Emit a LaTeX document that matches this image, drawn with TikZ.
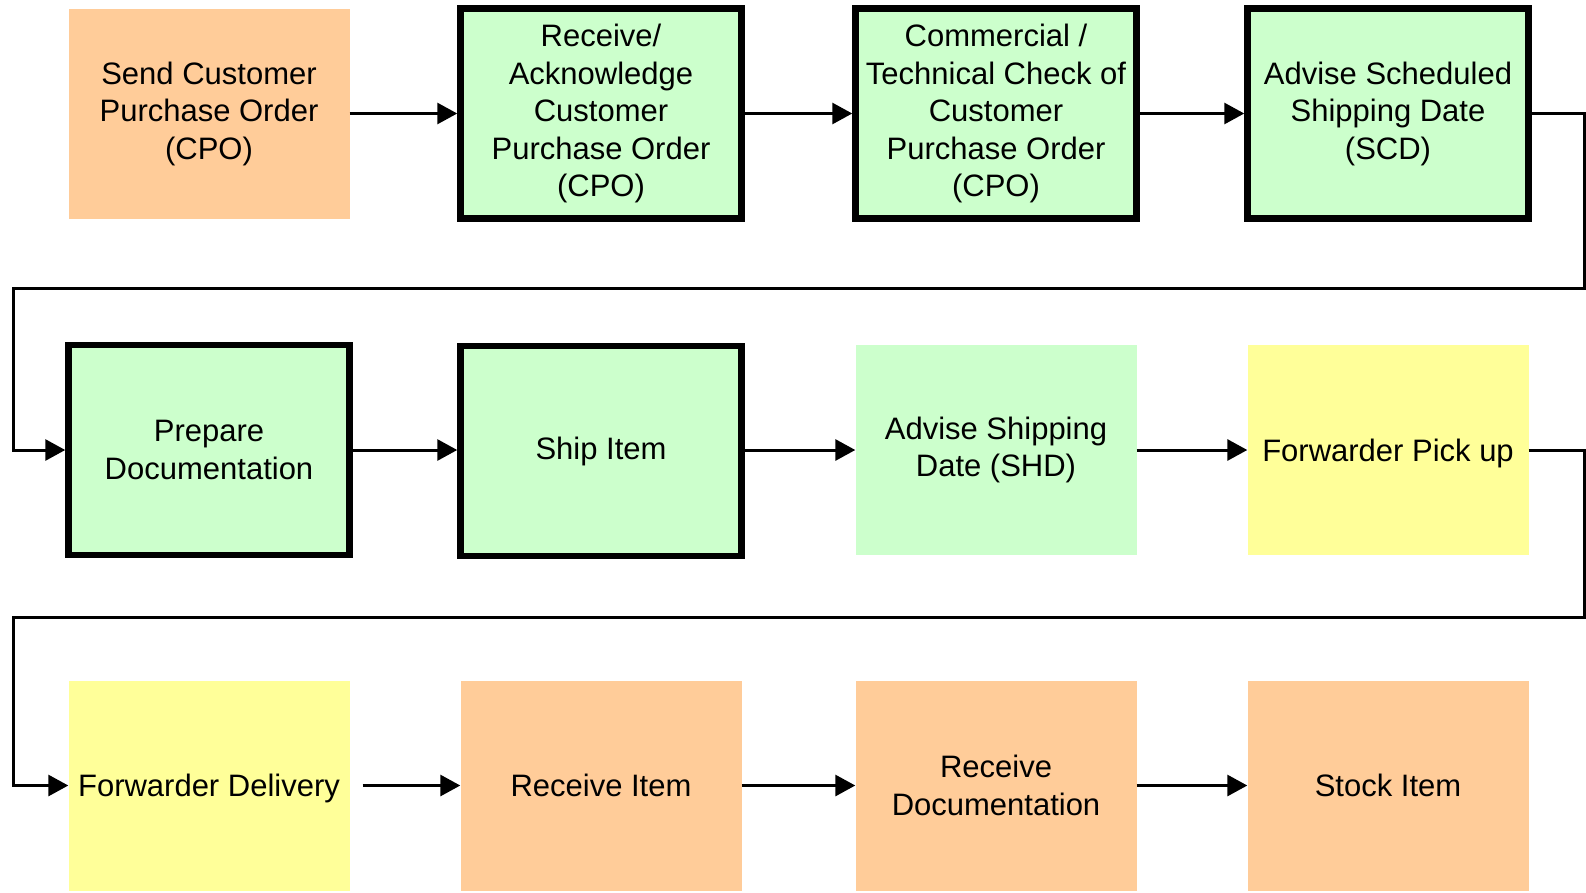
\documentclass[tikz,border=0pt]{standalone}
\usepackage{fontspec}
\setmainfont{Liberation Sans}
\usetikzlibrary{arrows.meta}
\definecolor{peach}{RGB}{255,204,153}
\definecolor{mint}{RGB}{204,255,204}
\definecolor{lemon}{RGB}{255,255,153}
\tikzset{
  box/.style={minimum width=281pt, minimum height=210pt, inner sep=2pt, align=center,
    font=\fontsize{31}{37.5}\selectfont},
  thickbox/.style={box, draw=black, line width=6.5pt, fill=mint},
  orangebox/.style={box, fill=peach},
  greenbox/.style={box, fill=mint},
  yellowbox/.style={box, fill=lemon},
  arr/.style={line width=3pt, -{Triangle[length=20pt,width=21pt]}},
  wire/.style={line width=3pt}
}
\begin{document}
\begin{tikzpicture}[x=1pt,y=-1pt]
\useasboundingbox (0,0) rectangle (1586,892);
% row 1
\node[orangebox] (b1) at (209,113.5) {Send Customer\\Purchase Order\\(CPO)};
\node[thickbox] (b2) at (601,113.5) {Receive/\\Acknowledge\\Customer\\Purchase Order\\(CPO)};
\node[thickbox] (b3) at (996,113.5) {Commercial /\\Technical Check of\\Customer\\Purchase Order\\(CPO)};
\node[thickbox] (b4) at (1388,113.5) {Advise Scheduled\\Shipping Date\\(SCD)};
% row 2
\node[thickbox] (p5) at (209,450) {Prepare\\Documentation};
\node[thickbox, yshift=-1pt] (p6) at (601,450) {Ship Item};
\node[greenbox] (p7) at (996,450) {Advise Shipping\\Date (SHD)};
\node[yellowbox, text depth=0pt] (p8) at (1388,450) {Forwarder Pick up};
% row 3
\node[yellowbox, text depth=0pt] (q9) at (209,785.5) {Forwarder Delivery};
\node[orangebox] (q10) at (601,785.5) {Receive Item};
\node[orangebox] (q11) at (996,785.5) {Receive\\Documentation};
\node[orangebox] (q12) at (1388,785.5) {Stock Item};
% wrap coordinates
\coordinate (w1r) at (1584,288);
\coordinate (w1l) at (13,288);
\coordinate (w2r) at (1584,617);
\coordinate (w2l) at (13,617);
% connectors
\draw[arr] (b1.east) -- (b2.west);
\draw[arr] (b2.east) -- (b3.west);
\draw[arr] (b3.east) -- (b4.west);
\draw[arr] (b4.east) -| (w1r) -- (w1l) |- (p5.west);
\draw[arr] (p5.east) -- (p6.west |- p5.east);
\draw[arr] (p6.east |- p5.east) -- (p7.west);
\draw[arr] (p7.east) -- (p8.west);
\draw[arr] (p8.east) -| (w2r) -- (w2l) |- (q9.west);
\draw[arr, shorten <=13pt] (q9.east) -- (q10.west);
\draw[arr] (q10.east) -- (q11.west);
\draw[arr] (q11.east) -- (q12.west);
\end{tikzpicture}
\end{document}
